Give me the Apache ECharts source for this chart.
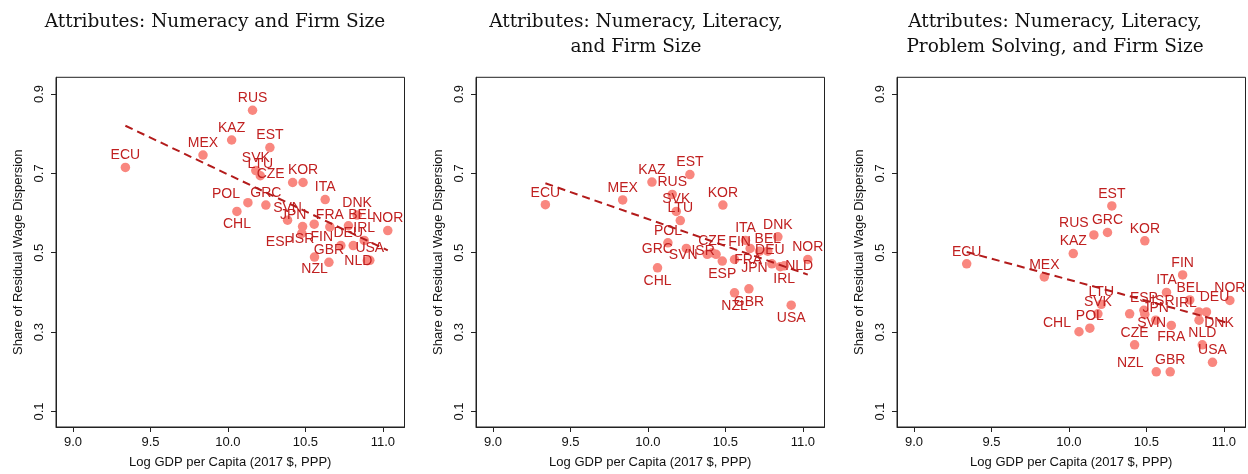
<!DOCTYPE html>
<html>
<head>
<meta charset="utf-8">
<script src="https://cdn.jsdelivr.net/npm/echarts@6/dist/echarts.min.js"></script>
<style>
html,body{margin:0;padding:0;background:#fff;}
#chart{width:1248px;height:474px;}
</style>
</head>
<body>
<div id="chart"></div>
<script>
// ---------------- DATA ----------------
const countries = ['ECU','MEX','KAZ','RUS','CHL','POL','SVK','LTU','GRC','EST','SVN','CZE','ISR','ESP','KOR','JPN','NZL','ITA','FRA','GBR','FIN','BEL','DEU','DNK','IRL','NLD','USA','NOR'];

// Panel 1: Numeracy and Firm Size
const gdp1   = [9.338, 9.839, 10.024, 10.159, 10.058, 10.129, 10.180, 10.209, 10.245, 10.271, 10.385, 10.418, 10.482, 10.477, 10.485, 10.557, 10.559, 10.628, 10.658, 10.652, 10.729, 10.778, 10.809, 10.834, 10.880, 10.900, 10.916, 11.032];
const share1 = [0.715, 0.746, 0.784, 0.859, 0.604, 0.626, 0.707, 0.694, 0.620, 0.765, 0.582, 0.677, 0.566, 0.549, 0.677, 0.572, 0.489, 0.634, 0.565, 0.476, 0.518, 0.568, 0.518, 0.595, 0.531, 0.480, 0.481, 0.556];
const fit1   = [[9.338, 0.820], [11.032, 0.506]];

// Panel 2: Numeracy, Literacy, and Firm Size
const gdp2   = [9.338, 9.837, 10.026, 10.157, 10.062, 10.129, 10.183, 10.209, 10.248, 10.271, 10.383, 10.415, 10.440, 10.480, 10.484, 10.559, 10.559, 10.630, 10.660, 10.652, 10.721, 10.774, 10.800, 10.839, 10.880, 10.854, 10.925, 11.032];
const share2 = [0.621, 0.633, 0.678, 0.647, 0.462, 0.525, 0.604, 0.581, 0.511, 0.697, 0.496, 0.500, 0.496, 0.479, 0.620, 0.483, 0.399, 0.531, 0.511, 0.409, 0.504, 0.504, 0.472, 0.540, 0.467, 0.465, 0.368, 0.483];
const fit2   = [[9.338, 0.675], [11.032, 0.445]];

// Panel 3: Numeracy, Literacy, Problem Solving, and Firm Size
const gdp3   = [9.340, 9.841, 10.028, 10.161, 10.065, 10.135, 10.187, 10.209, 10.249, 10.277, 10.392, 10.424, 10.490, 10.484, 10.490, 10.560, 10.564, 10.630, 10.661, 10.654, 10.734, 10.780, 10.888, 10.840, 10.839, 10.861, 10.927, 11.039];
const share3 = [0.472, 0.439, 0.498, 0.545, 0.301, 0.310, 0.346, 0.370, 0.551, 0.618, 0.346, 0.268, 0.345, 0.355, 0.530, 0.330, 0.200, 0.400, 0.317, 0.200, 0.444, 0.381, 0.351, 0.330, 0.351, 0.268, 0.224, 0.380];
const fit3   = [[9.340, 0.502], [11.039, 0.322]];

const titles = ['Attributes: Numeracy and Firm Size',
                'Attributes: Numeracy, Literacy,\nand Firm Size',
                'Attributes: Numeracy, Literacy,\nProblem Solving, and Firm Size'];
const xTicks = [9.0, 9.5, 10.0, 10.5, 11.0];
const yTicks = [0.1, 0.3, 0.5, 0.7, 0.9];
const xTitle = 'Log GDP per Capita (2017 $, PPP)';
const yTitle = 'Share of Residual Wage Dispersion';

// ---------------- STYLE (label placement, px offsets of label centre from marker) ----------------
const labelOffsets = [
  {CZE:[-22,-8], POL:[-22,-9], CHL:[0,13], JPN:[-21,-9], ISR:[0,13], ESP:[-22,9], FIN:[-19,-8], NZL:[0,12], DEU:[-5,-12], BEL:[13,-11], NLD:[-9,0]},
  {GRC:[-29,1], CHL:[0,13], SVN:[-24,1], ISR:[-13,-3], ESP:[0,13], JPN:[20,9], FRA:[-2,12], FIN:[-20,-9], DEU:[-2,-14], IRL:[0,13], NLD:[19,0], NZL:[0,13], GBR:[0,13], USA:[0,13]},
  {RUS:[-20,-12], NZL:[-26,-9], FRA:[0,12], SVN:[22,9], ISR:[18,-13], IRL:[-13,-9], DEU:[8,-15], DNK:[20,3], CHL:[-22,-9]}
];
const defaultOffset = [0, -12];

const gdps = [gdp1, gdp2, gdp3];
const shares = [share1, share2, share3];
const fits = [fit1, fit2, fit3];

const gridLeft = [56, 476, 897];
const gridW = 348.5, gridTop = 77.3, gridH = 353.4;
const titleCenters = [210, 631, 1050];

const dotColor = '#F9877F';
const labColor = '#C02020';
const fitColor = '#B31B1B';
const sans = 'Liberation Sans, Arial, Helvetica, sans-serif';

const option = {
  animation: false,
  backgroundColor: '#ffffff',
  title: titles.map((t, i) => ({
    text: t,
    left: titleCenters[i],
    top: 5,
    textAlign: 'center',
    textStyle: {fontFamily: 'DejaVu Serif', fontWeight: 'normal', fontSize: 18.5, lineHeight: 25, color: '#111'}
  })),
  grid: gridLeft.map(l => ({left: l, top: gridTop, width: gridW, height: gridH, show: true, borderColor: '#222', borderWidth: 1, backgroundColor: '#fff'})),
  xAxis: gridLeft.map((l, i) => ({
    type: 'value', gridIndex: i, min: 8.89, max: 11.14,
    name: xTitle, nameLocation: 'middle', nameGap: 29,
    nameTextStyle: {fontFamily: sans, fontSize: 13, color: '#111'},
    axisLine: {show: true, onZero: false, lineStyle: {color: '#222', width: 1}},
    axisTick: {show: true, length: 5, customValues: xTicks, lineStyle: {color: '#222'}},
    axisLabel: {show: true, customValues: xTicks, margin: 9, fontFamily: sans, fontSize: 13, color: '#111', formatter: v => Number(v).toFixed(1)},
    splitLine: {show: false}
  })),
  yAxis: gridLeft.map((l, i) => ({
    type: 'value', gridIndex: i, min: 0.061, max: 0.942,
    name: yTitle, nameLocation: 'middle', nameGap: 31,
    nameTextStyle: {fontFamily: sans, fontSize: 13, color: '#111'},
    axisLine: {show: true, onZero: false, lineStyle: {color: '#222', width: 1}},
    axisTick: {show: true, length: 5, customValues: yTicks, lineStyle: {color: '#222'}},
    axisLabel: {show: true, customValues: yTicks, rotate: 90, margin: 10, fontFamily: sans, fontSize: 13, color: '#111', formatter: v => Number(v).toFixed(1)},
    splitLine: {show: false}
  })),
  series: []
};

for (let i = 0; i < 3; i++) {
  option.series.push({
    type: 'scatter', xAxisIndex: i, yAxisIndex: i, z: 2,
    symbolSize: 9.5,
    itemStyle: {color: dotColor, opacity: 1},
    label: {show: true, position: 'inside', formatter: '{b}', fontFamily: sans, fontSize: 14, color: labColor, align: 'center', verticalAlign: 'middle'},
    emphasis: {disabled: true},
    data: countries.map((c, k) => ({
      name: c,
      value: [gdps[i][k], shares[i][k]],
      label: {offset: labelOffsets[i][c] || defaultOffset}
    }))
  });
  option.series.push({
    type: 'line', xAxisIndex: i, yAxisIndex: i, z: 5,
    symbol: 'none', silent: true,
    lineStyle: {color: fitColor, width: 2, type: [8, 5]},
    data: fits[i]
  });
}

const chart = echarts.init(document.getElementById('chart'), null, {renderer: 'canvas'});
chart.setOption(option);
</script>
</body>
</html>
